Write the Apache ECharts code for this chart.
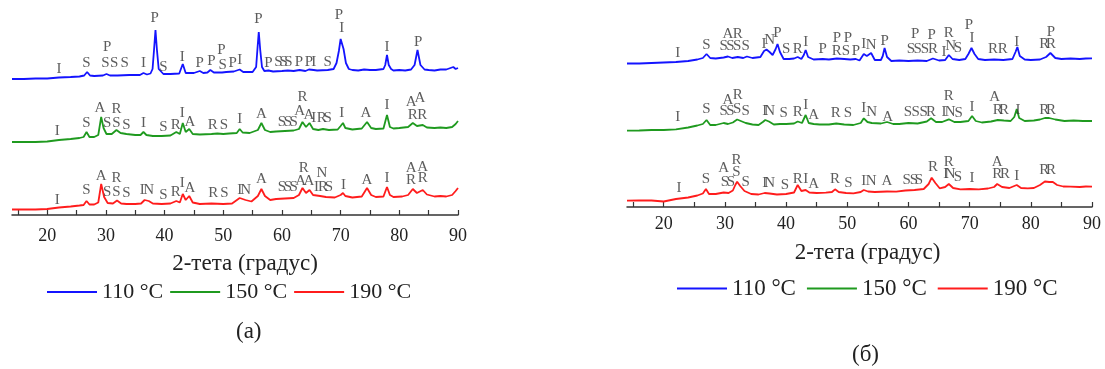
<!DOCTYPE html>
<html>
<head>
<meta charset="utf-8">
<script src="https://cdn.jsdelivr.net/npm/echarts@6/dist/echarts.min.js"></script>
<style>
  html, body { margin: 0; padding: 0; background: #fff; }
  #chart { width: 1105px; height: 369px; }
</style>
</head>
<body>
<div id="chart"></div>
<script>
var serif = '"Liberation Serif", "DejaVu Serif", serif';
var names = ['110 °C', '150 °C', '190 °C'];
var colors = ['#1414ff', '#1f9a1f', '#ff1c1c'];
var axisTitle = '2-тета (градус)';
var tickValues = [15, 20, 25, 30, 35, 40, 45, 50, 55, 60, 65, 70, 75, 80, 85, 90];
var tickLabels = [20, 30, 40, 50, 60, 70, 80, 90];

// панель (а): [2θ, интенсивность со сдвигом]
var xrdA110 = [[14,136],[16,136],[18,136.5],[20,136.5],[22,137.5],[24,138],[25.5,138.5],[26.3,139.5],[26.8,143],[27.3,139.5],[28,139],[29.5,139.5],[30.1,141],[30.7,139.5],[32,139.5],[34,140],[35.8,140],[36.4,142],[37,140.5],[37.6,141.5],[37.95,146],[38.2,165],[38.45,185],[38.7,165],[39.0,146],[39.8,141],[41,141],[42.5,141.5],[43.1,151],[43.6,142],[45,142],[46,144],[46.6,142],[47.3,142.5],[47.8,145],[48.4,142.5],[49.8,142.5],[50.5,143],[51.8,143.5],[52.8,145.5],[53.4,143],[55,143],[55.6,148],[55.85,168],[56.05,183],[56.3,165],[56.6,148],[57,144],[57.7,144.5],[58.5,143.5],[60,144],[61,144.5],[62,144],[63,145],[64,144],[64.6,145.5],[65.4,145],[66,144.5],[67.8,145],[68.8,146],[69.3,152],[69.7,164],[70.0,176],[70.2,177],[70.5,166],[70.9,152],[71.4,146],[72,145],[73,144.5],[74,145.5],[75,145],[76,145],[77.3,146],[77.6,150],[77.9,160],[78.2,150],[78.6,146],[79,144.5],[80,145],[81,144.5],[82,145.5],[82.6,150],[83.1,165],[83.6,150],[84.3,145.5],[85,145],[86,144.5],[87,145.5],[88,145.5],[89.2,148],[89.6,146],[90,147]];
var xrdA150 = [[14,73],[16,73],[18,73],[20,73.5],[22,75],[24,76],[25.5,77],[26.2,78],[26.7,83],[27.2,78],[28,78],[28.7,80],[29.2,98],[29.6,87],[30.1,81],[31,81],[31.8,85],[32.5,82],[33.5,81],[35,80],[35.9,80],[36.4,83],[36.9,80],[38,79],[39.5,79],[41,79.5],[42,83],[42.6,81],[43.1,92],[43.6,83],[44.2,86],[44.8,81],[46,80.5],[48,81],[49,81.5],[50,81],[51,81.5],[52.3,82],[52.8,86],[53.3,82.5],[54.5,82],[55.9,85],[56.5,92],[57.1,85],[58,83],[59,83.5],[60.5,84],[62,84.5],[62.9,86],[63.5,93],[64.1,88],[64.7,92],[65.3,86],[66.2,85],[67,86],[68,85],[69.5,85.5],[70.0,89],[70.4,92],[70.8,87],[72,85.5],[73.6,86.5],[74.5,93],[75.2,87],[76,86],[77.3,86.5],[77.9,100],[78.4,88],[79,86.5],[80,87],[81.5,88],[82.3,92],[83,89],[84,90],[84.7,87.5],[86,87],[87,87.5],[88,87],[89,88],[89.6,91],[90,94]];
var xrdA190 = [[14,5.5],[16,5.5],[18,5.5],[20,6],[22,7.5],[24,8.5],[25.5,9.5],[26.2,10],[26.7,14],[27.2,10.5],[28,10.5],[28.7,12.5],[29.2,31],[29.7,18],[30.3,12],[31.2,11.5],[31.9,14.5],[32.6,11.5],[33.5,11],[35,11],[36,11.5],[36.6,15],[37.3,14],[38,11.5],[39.5,11],[41,11.5],[42,14],[42.6,12.5],[43.1,21],[43.6,15],[44.2,19],[44.8,12.5],[46,11],[48,11.5],[50,11],[51.5,11.5],[52.8,17],[53.8,15],[54.8,13.5],[55.9,19],[56.5,26],[57.1,19],[58,15],[59,16],[60.5,16.5],[62,17],[62.9,20],[63.5,27],[64.1,22],[64.7,25],[65.3,20],[66.5,19],[67.5,18],[69,17.5],[70.0,20],[70.4,22],[70.8,19],[72,17.5],[73.6,18.5],[74.5,27],[75.2,20],[76,18],[77.3,18.5],[77.9,28],[78.4,20],[79,18],[80.5,18.5],[81.5,20],[82.3,26],[83,22],[84,25],[84.7,20.5],[86,18.5],[87,19],[88,18.5],[89,20],[89.6,24],[90,27]];

// панель (б)
var xrdB110 = [[14,143.5],[16,143.5],[18,144],[20,144.5],[22,145],[24,146],[25.5,147.5],[26.4,149],[27,153],[27.6,149],[28.5,148.5],[29.8,149.5],[30.5,150.5],[31.2,149],[32.1,150],[33,149],[33.6,150.5],[34.5,149],[35.8,150],[36.4,156],[36.8,157.5],[37.3,155],[37.8,152],[38.3,158],[38.6,163],[39,155],[39.6,148],[40.5,148],[41.3,148.5],[41.9,150],[42.5,148],[42.9,152],[43.2,157],[43.6,150],[44.5,147.5],[46,148],[47,147.5],[48.3,148.5],[49.5,148],[50.5,147.5],[51.4,148],[52,146.5],[52.7,153],[53.2,151],[53.9,154],[54.5,147],[55.5,147],[55.8,151],[56.1,159],[56.5,150],[57.2,146],[58.5,146.5],[60,146],[61.5,146.5],[63,146],[64,148.5],[65,146.5],[66,147],[66.6,152],[67.2,148],[68.3,147],[69.3,148],[69.8,153],[70.3,159],[70.8,153],[71.4,148],[72.5,147],[74,147.5],[75.5,147],[77,148],[77.5,155],[77.8,160],[78.2,151],[79,147.5],[80,147],[81.5,147.5],[82.5,150],[83.2,154],[84,149],[85,148],[86.5,148.5],[88,148],[89,148.5],[90,148.7]];
var xrdB150 = [[14,76.3],[16,76.5],[18,77],[20,77],[22,77.7],[24,79.5],[25.5,81.5],[26.4,83],[27,87],[27.6,82],[28.5,82],[29.8,84],[30.5,83],[31.3,84.5],[32,87.5],[32.6,86],[33.4,84],[34.5,82.5],[35.5,82],[36.2,85],[36.6,87],[37.2,85.5],[38,82.5],[39,83],[40,83],[41.3,83.5],[41.9,85.5],[42.6,84],[43.2,92],[43.7,84],[44.5,83],[45.5,82.5],[47,82.5],[48.2,83.5],[49.5,82.5],[51,82],[52.2,84],[52.7,88.7],[53.3,85],[54,84],[55.5,83.5],[56.5,85],[57.5,83],[58.5,83],[60,84],[61.5,83.5],[63,85.5],[63.7,88.7],[64.5,85],[65.5,85],[66.6,87.7],[67.5,85],[68.5,85],[69.8,86],[70.4,91],[71,86],[72,84.5],[73.5,85.5],[74.6,87],[75.6,86.5],[76.7,86],[77.3,90],[77.7,98],[78.1,89],[79,86],[80.5,86.5],[81.5,87.5],[82.3,89],[83,89],[84,87.5],[85.5,86],[87,86.5],[88.5,86],[90,86]];
var xrdB190 = [[14,6.3],[16,6.5],[18,6.5],[20,5.5],[22,8],[24,9.5],[25.5,11.5],[26.4,13.5],[26.9,18],[27.4,13],[28.5,13],[29.8,14.5],[30.6,14],[31.3,16.5],[31.7,22],[32,25.3],[32.5,21],[33.2,16],[34.3,13],[35.5,12.5],[36.5,14],[37.3,13.5],[38.5,12.5],[40,13],[41.3,14.5],[41.9,22],[42.5,16],[43.2,17],[43.8,14.5],[45,14],[46.5,14.3],[47.5,15],[48,17.7],[48.6,15],[49.8,14],[51,13.7],[52.2,15],[52.7,17],[53.4,15.5],[54.5,15],[56.5,15.5],[58,15.3],[59.5,16.5],[61,17],[62.5,18],[63.3,23],[63.8,29.3],[64.4,24],[65.1,18.7],[66,20],[66.6,23],[67.3,19],[68.5,17.7],[70,18],[71.5,17.7],[73,18.5],[74,20],[74.5,23],[75.3,20],[76.5,19],[77.7,22],[78.4,19],[79.5,18.7],[80.5,19],[81.5,22],[82.3,25.5],[83,25],[83.6,25],[84.3,22],[85.3,20.5],[86.5,20.3],[88,20],[89,20.5],[90,20.3]];

// обозначения фаз: [2θ, высота, буква]
var peaksA110 = [[22.0,146,'I'],[26.7,152,'S'],[30.2,168,'P'],[29.9,152,'S'],[31.4,152,'S'],[33.2,152,'S'],[36.4,152,'I'],[38.3,197,'P'],[39.8,148,'S'],[43.0,158,'I'],[46.0,152,'P'],[48.0,154,'P'],[49.7,165,'P'],[49.9,150,'S'],[51.6,152,'P'],[52.8,155,'I'],[56.0,196,'P'],[57.7,152,'P'],[59.4,153,'S'],[60.3,153,'S'],[61.1,153,'S'],[62.9,153,'P'],[64.6,153,'P'],[65.4,153,'I'],[67.8,153,'S'],[69.7,200,'P'],[70.2,187,'I'],[77.9,168,'I'],[83.2,173,'P']];
var peaksA150 = [[21.7,84,'I'],[26.7,92,'S'],[29.0,107,'A'],[30.2,92,'S'],[31.8,106,'R'],[31.8,92,'S'],[33.5,90,'S'],[36.4,92,'I'],[39.8,88,'S'],[41.9,90,'R'],[43.0,102,'I'],[44.3,93,'A'],[48.2,90,'R'],[50.1,90,'S'],[52.8,96,'I'],[56.5,101,'A'],[60.0,93,'S'],[61.0,93,'S'],[62.0,93,'S'],[63.5,118,'R'],[63.0,104,'A'],[64.6,100,'A'],[65.4,97,'I'],[66.8,97,'R'],[67.8,97,'S'],[70.2,102,'I'],[74.3,102,'A'],[77.9,110,'I'],[82.0,113,'A'],[82.3,100,'R'],[83.5,117,'A'],[83.9,100,'R'],[90.3,103,'A']];
var peaksA190 = [[21.7,15,'I'],[26.7,25,'S'],[29.2,39,'A'],[30.2,23,'S'],[31.8,37,'R'],[31.8,23,'S'],[33.5,22,'S'],[36.2,25,'I'],[37.3,25,'N'],[39.8,20,'S'],[41.9,23,'R'],[43.0,32,'I'],[44.3,27,'A'],[48.3,22,'R'],[50.2,22,'S'],[52.8,25,'I'],[53.8,25,'N'],[56.5,36,'A'],[60.0,28,'S'],[61.0,28,'S'],[62.0,28,'S'],[63.7,47,'R'],[63.2,34,'A'],[64.6,34,'A'],[66.8,42,'N'],[65.9,28,'I'],[67.0,28,'R'],[68.0,28,'S'],[70.5,30,'I'],[74.5,35,'A'],[77.9,37,'I'],[82.0,47,'A'],[82.0,35,'R'],[84.0,48,'A'],[84.0,37,'R'],[90.5,37,'A']];
var peaksB110 = [[22.3,154,'I'],[27.0,162,'S'],[30.5,173,'A'],[32.1,173,'R'],[29.8,161,'S'],[30.9,161,'S'],[32.0,161,'S'],[33.4,161,'S'],[36.4,163,'I'],[37.3,167,'N'],[38.6,174,'P'],[40.0,158,'S'],[41.9,158,'R'],[43.2,165,'I'],[46.0,158,'P'],[48.3,169,'P'],[48.3,156,'R'],[50.1,169,'P'],[49.8,156,'S'],[51.4,156,'P'],[52.7,163,'I'],[53.9,162,'N'],[56.1,166,'P'],[61.1,173,'P'],[60.4,158,'S'],[61.5,158,'S'],[62.7,158,'S'],[63.8,172,'P'],[64.0,158,'R'],[65.8,155,'I'],[66.6,174,'R'],[66.9,161,'N'],[68.1,159,'S'],[69.9,182,'P'],[70.4,169,'I'],[73.8,158,'R'],[75.4,158,'R'],[77.7,165,'I'],[83.3,175,'P'],[82.2,163,'R'],[83.3,163,'R']];
var peaksB150 = [[22.3,90,'I'],[27.0,98,'S'],[30.5,107,'A'],[32.1,112,'R'],[29.8,96,'S'],[30.9,96,'S'],[32.0,98,'S'],[33.4,96,'S'],[36.5,96,'I'],[37.3,96,'N'],[39.6,94,'S'],[41.9,95,'R'],[43.2,102,'I'],[44.5,92,'A'],[48.1,94,'R'],[50.1,94,'S'],[52.7,99,'I'],[54.0,95,'N'],[56.6,90,'A'],[59.9,95,'S'],[61.2,95,'S'],[62.5,95,'S'],[63.7,95,'R'],[66.6,111,'R'],[65.8,95,'I'],[66.8,95,'N'],[68.2,94,'S'],[70.4,100,'I'],[74.1,110,'A'],[74.6,97,'R'],[75.6,97,'R'],[77.9,97,'I'],[82.2,97,'R'],[83.3,97,'R']];
var peaksB190 = [[22.5,19,'I'],[26.9,28,'S'],[29.8,39,'A'],[31.9,47,'R'],[31.9,35,'S'],[30.0,25,'S'],[31.0,25,'S'],[33.4,25,'S'],[36.5,24,'I'],[37.3,24,'N'],[39.8,22,'S'],[41.9,28,'R'],[43.2,28,'I'],[44.5,23,'A'],[48.0,28,'R'],[50.2,24,'S'],[52.7,26,'I'],[53.9,26,'N'],[56.5,26,'A'],[59.7,27,'S'],[60.9,27,'S'],[61.7,27,'S'],[64.0,40,'R'],[66.6,45,'R'],[66.1,33,'I'],[66.8,33,'N'],[68.1,30,'S'],[70.4,29,'I'],[74.5,45,'A'],[74.5,33,'R'],[75.8,33,'R'],[77.7,31,'I'],[82.2,37,'R'],[83.3,37,'R']];

function lineSeries(name, data, color, idx) {
    return {
        name: name,
        type: 'line',
        xAxisIndex: idx,
        yAxisIndex: idx,
        data: data,
        showSymbol: false,
        symbol: 'none',
        lineStyle: { color: color, width: 1.8 },
        itemStyle: { color: color },
        z: 2
    };
}

function labelSeries(list, idx) {
    return {
        name: 'labels' + idx,
        type: 'scatter',
        xAxisIndex: idx,
        yAxisIndex: idx,
        symbolSize: 0,
        silent: true,
        data: list.map(function (p) { return { value: [p[0], p[1]], name: p[2] }; }),
        label: {
            show: true,
            position: 'inside',
            formatter: '{b}',
            fontFamily: serif,
            fontSize: 15,
            color: '#333'
        },
        z: 3
    };
}

function xAxisFor(idx, gap, shift, margin) {
    return {
        gridIndex: idx,
        type: 'value',
        min: 14,
        max: 90,
        splitLine: { show: false },
        axisLine: { lineStyle: { color: '#333', width: 1.5 } },
        axisTick: { inside: true, length: 5, customValues: tickValues, lineStyle: { color: '#333', width: 1.2 } },
        axisLabel: { customValues: tickLabels, fontFamily: serif, fontSize: 18, color: '#222', margin: margin },
        name: axisTitle,
        nameLocation: 'middle',
        nameGap: gap,
        nameTextStyle: { fontFamily: serif, fontSize: 23, color: '#222', padding: [0, 0, 0, shift] }
    };
}

function legendFor(left, top, size, gap) {
    return {
        left: left,
        top: top,
        data: names,
        icon: 'rect',
        itemWidth: 50,
        itemHeight: 2,
        itemGap: gap,
        selectedMode: false,
        textStyle: { fontFamily: serif, fontSize: size, color: '#222' }
    };
}

var chart = echarts.init(document.getElementById('chart'));
chart.setOption({
    backgroundColor: '#fff',
    animation: false,
    title: [
        { text: '(a)', left: 231, top: 315, textStyle: { fontFamily: serif, fontSize: 23, fontWeight: 'normal', color: '#222' } },
        { text: '(б)', left: 847, top: 338, textStyle: { fontFamily: serif, fontSize: 23, fontWeight: 'normal', color: '#222' } }
    ],
    legend: [legendFor(42, 276, 22, 7), legendFor(672, 272, 23, 11)],
    grid: [
        { left: 12, right: 647, top: 0, bottom: 154 },
        { left: 627, right: 13, top: 0, bottom: 162 }
    ],
    xAxis: [xAxisFor(0, 37, 20, 12), xAxisFor(1, 34, 16, 8)],
    yAxis: [
        { gridIndex: 0, type: 'value', min: 0, max: 215, show: false },
        { gridIndex: 1, type: 'value', min: 0, max: 207, show: false }
    ],
    series: [
        lineSeries(names[0], xrdA110, colors[0], 0),
        lineSeries(names[1], xrdA150, colors[1], 0),
        lineSeries(names[2], xrdA190, colors[2], 0),
        lineSeries(names[0], xrdB110, colors[0], 1),
        lineSeries(names[1], xrdB150, colors[1], 1),
        lineSeries(names[2], xrdB190, colors[2], 1),
        labelSeries(peaksA110, 0),
        labelSeries(peaksA150, 0),
        labelSeries(peaksA190, 0),
        labelSeries(peaksB110, 1),
        labelSeries(peaksB150, 1),
        labelSeries(peaksB190, 1)
    ]
});
</script>
</body>
</html>
